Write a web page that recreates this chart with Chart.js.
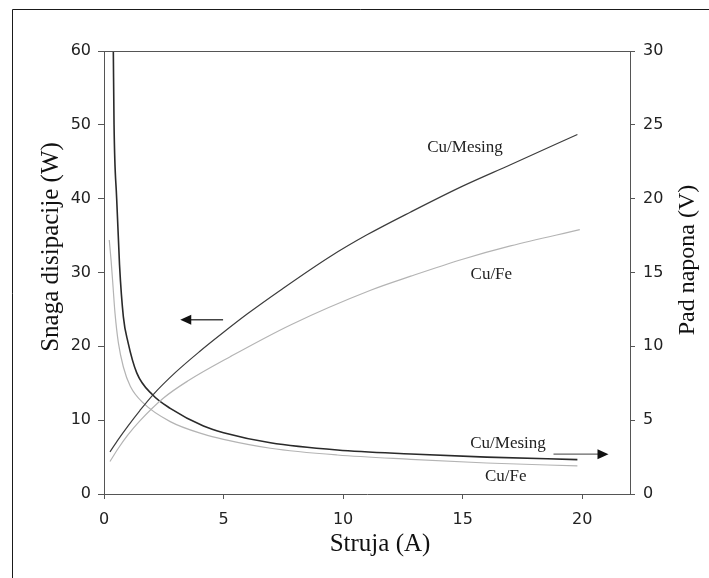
<!DOCTYPE html>
<html>
<head>
<meta charset="utf-8">
<script src="https://cdn.jsdelivr.net/npm/chart.js@4.4.1/dist/chart.umd.min.js"></script>
<style>
  html, body { margin: 0; padding: 0; background: #fff; }
</style>
</head>
<body>
<canvas id="chart" width="709" height="578"></canvas>
<script>
// Snaga disipacije (lijeva os) i pad napona (desna os) u ovisnosti o struji

// rastuce krivulje - snaga (W), lijeva os
const powerMesingX = [0.25, 0.6, 1, 1.5, 2.04, 3, 4, 5, 6, 7.38, 9.48, 11, 12.83, 15, 17, 19.8];
const powerMesingY = [5.7, 7.4, 9.2, 11.3, 13.4, 16.5, 19.3, 21.9, 24.4, 27.6, 32.2, 35.1, 38.2, 41.7, 44.6, 48.7];
const powerFeX = [0.25, 0.6, 1, 1.5, 2.49, 3.5, 5.28, 7.8, 11.15, 12.83, 15, 17, 19.9];
const powerFeY = [4.4, 6.2, 8.0, 9.9, 13.0, 15.3, 18.6, 22.9, 27.6, 29.5, 31.8, 33.6, 35.8];

// padajuce krivulje - pad napona (V), desna os
const voltMesingX = [0.39, 0.42, 0.53, 0.65, 0.81, 1.0, 1.37, 2.04, 2.77, 4.16, 5.0, 6.96, 9.76, 12.83, 16, 19.8];
const voltMesingY = [30, 25, 20, 15.5, 12, 10.3, 8.2, 6.7, 5.8, 4.6, 4.15, 3.47, 2.98, 2.71, 2.5, 2.33];
const voltFeX = [0.22, 0.3, 0.38, 0.46, 0.6, 0.81, 1.1, 1.65, 2.77, 4.16, 5.0, 6.96, 9.76, 12.83, 16, 19.8];
const voltFeY = [17.2, 15.75, 14, 12.25, 10.25, 8.6, 7.3, 6.15, 4.9, 4.05, 3.7, 3.1, 2.64, 2.35, 2.1, 1.9];

const xTicks = [0, 5, 10, 15, 20];

// oznake krivulja (koordinate u jedinicama lijeve osi)
const curveLabels = ['Cu/Mesing', 'Cu/Fe', 'Cu/Mesing', 'Cu/Fe'];
const curveLabelX = [15.1, 16.2, 16.9, 16.8];
const curveLabelY = [46.9, 29.7, 6.87, 2.35];

// strelice: lijeva pokazuje na os snage, desna na os napona
const arrowPowerX = [4.98, 3.19];
const arrowPowerY = 23.6;
const arrowVoltX = [18.8, 21.1];
const arrowVoltY = 2.7;

const serif = "'Liberation Serif', 'Times New Roman', serif";
const sans = "'DejaVu Sans', Verdana, sans-serif";

function toPoints(xs, ys) {
    return xs.map((x, i) => ({ x: x, y: ys[i] }));
}

function drawArrow(ctx, x0, y0, x1, y1, color) {
    const dir = Math.sign(x1 - x0);
    ctx.strokeStyle = color;
    ctx.lineWidth = 1.3;
    ctx.beginPath();
    ctx.moveTo(x0, y0);
    ctx.lineTo(x1 - dir * 9, y1);
    ctx.stroke();
    ctx.fillStyle = '#111';
    ctx.beginPath();
    ctx.moveTo(x1, y1);
    ctx.lineTo(x1 - dir * 11, y1 - 5);
    ctx.lineTo(x1 - dir * 11, y1 + 5);
    ctx.closePath();
    ctx.fill();
}

const decorations = {
    id: 'decorations',
    afterDraw(chart) {
        const { ctx, chartArea, scales } = chart;
        const x = scales.x, y = scales.y, y1 = scales.y1;
        ctx.save();

        // okvir slike (vidljiv samo gore i lijevo)
        ctx.strokeStyle = '#1a1a1a';
        ctx.lineWidth = 1;
        ctx.beginPath();
        ctx.moveTo(12.5, 578);
        ctx.lineTo(12.5, 9.5);
        ctx.lineTo(709, 9.5);
        ctx.stroke();

        // gornja linija okvira grafa
        ctx.strokeStyle = '#555';
        ctx.beginPath();
        ctx.moveTo(chartArea.left, chartArea.top + 0.5);
        ctx.lineTo(chartArea.right, chartArea.top + 0.5);
        ctx.stroke();

        // strelice
        drawArrow(ctx, x.getPixelForValue(arrowPowerX[0]), y.getPixelForValue(arrowPowerY),
            x.getPixelForValue(arrowPowerX[1]), y.getPixelForValue(arrowPowerY), '#444');
        drawArrow(ctx, x.getPixelForValue(arrowVoltX[0]), y1.getPixelForValue(arrowVoltY),
            x.getPixelForValue(arrowVoltX[1]), y1.getPixelForValue(arrowVoltY), '#666');

        // oznake krivulja
        ctx.fillStyle = '#222';
        ctx.font = '17px ' + serif;
        ctx.textAlign = 'center';
        ctx.textBaseline = 'middle';
        curveLabels.forEach((t, i) => {
            ctx.fillText(t, x.getPixelForValue(curveLabelX[i]), y.getPixelForValue(curveLabelY[i]));
        });

        // naslovi osi
        ctx.fillStyle = '#111';
        ctx.font = '25px ' + serif;
        ctx.fillText('Struja (A)', 380, 544);

        ctx.save();
        ctx.translate(51, 247);
        ctx.rotate(-Math.PI / 2);
        ctx.fillText('Snaga disipacije (W)', 0, 0);
        ctx.restore();

        ctx.save();
        ctx.translate(688, 260);
        ctx.rotate(-Math.PI / 2);
        ctx.font = '24px ' + serif;
        ctx.fillText('Pad napona (V)', 0, 0);
        ctx.restore();

        ctx.restore();
    }
};

const axisColor = '#555';

new Chart(document.getElementById('chart'), {
    type: 'line',
    data: {
        datasets: [
            {
                label: 'Cu/Mesing snaga',
                data: toPoints(powerMesingX, powerMesingY),
                yAxisID: 'y',
                borderColor: '#3c3c3c',
                borderWidth: 1.2
            },
            {
                label: 'Cu/Fe snaga',
                data: toPoints(powerFeX, powerFeY),
                yAxisID: 'y',
                borderColor: '#b4b4b4',
                borderWidth: 1.2
            },
            {
                label: 'Cu/Mesing napon',
                data: toPoints(voltMesingX, voltMesingY),
                yAxisID: 'y1',
                borderColor: '#2a2a2a',
                borderWidth: 1.6
            },
            {
                label: 'Cu/Fe napon',
                data: toPoints(voltFeX, voltFeY),
                yAxisID: 'y1',
                borderColor: '#b4b4b4',
                borderWidth: 1.2
            }
        ]
    },
    options: {
        responsive: false,
        animation: false,
        devicePixelRatio: 1,
        layout: { padding: { top: 51, left: 0, right: 0, bottom: 0 } },
        elements: {
            point: { radius: 0 },
            line: { cubicInterpolationMode: 'monotone', fill: false }
        },
        plugins: {
            legend: { display: false },
            tooltip: { enabled: false }
        },
        scales: {
            x: {
                type: 'linear',
                min: 0,
                max: 22,
                afterBuildTicks: (scale) => {
                    scale.ticks = xTicks.map(v => ({ value: v }));
                },
                afterFit: (scale) => { scale.height = 84; },
                ticks: {
                    color: '#222',
                    font: { family: sans, size: 16 },
                    padding: 11,
                    maxRotation: 0
                },
                grid: { drawOnChartArea: false, tickLength: 5, color: axisColor },
                border: { color: axisColor }
            },
            y: {
                type: 'linear',
                position: 'left',
                min: 0,
                max: 60,
                ticks: {
                    stepSize: 10,
                    color: '#222',
                    font: { family: sans, size: 16 },
                    padding: 7
                },
                afterFit: (scale) => { scale.width = 104; },
                grid: { drawOnChartArea: false, tickLength: 6, color: axisColor },
                border: { color: axisColor }
            },
            y1: {
                type: 'linear',
                position: 'right',
                min: 0,
                max: 30,
                ticks: {
                    stepSize: 5,
                    color: '#222',
                    font: { family: sans, size: 16 },
                    padding: 8
                },
                afterFit: (scale) => { scale.width = 79; },
                grid: { drawOnChartArea: false, tickLength: 5, color: axisColor },
                border: { color: axisColor }
            }
        }
    },
    plugins: [decorations]
});
</script>
</body>
</html>
